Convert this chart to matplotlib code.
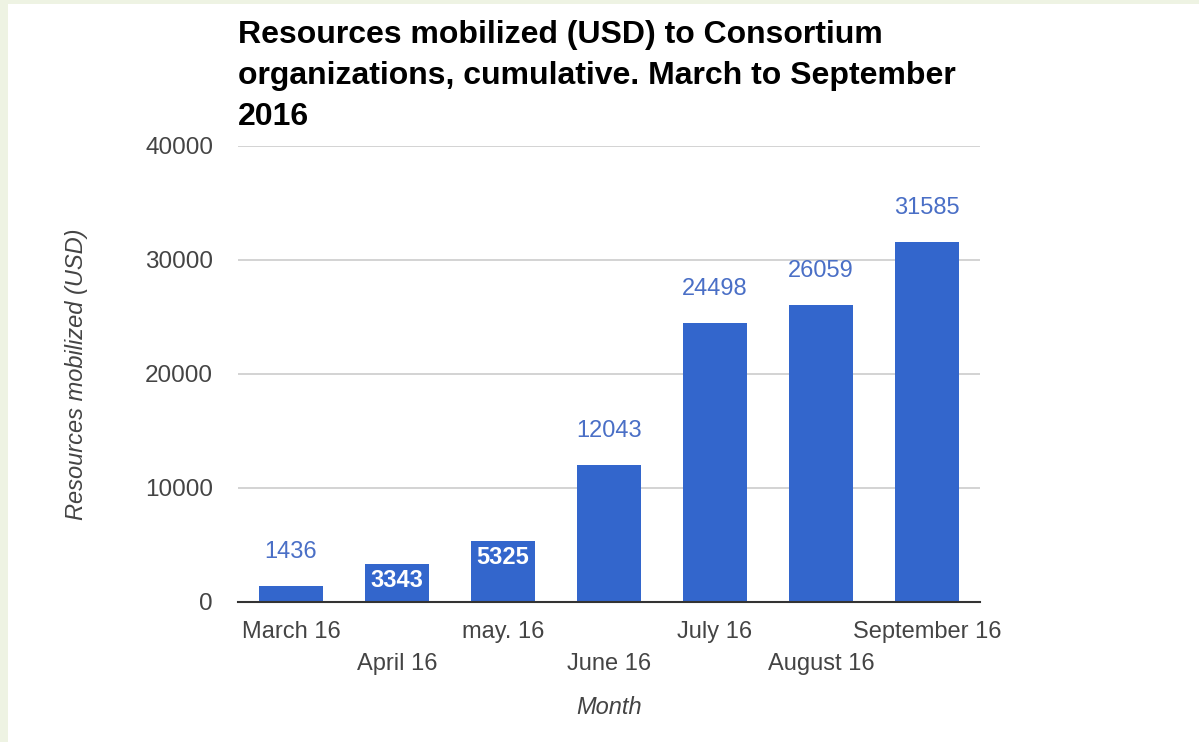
import matplotlib
matplotlib.use("Agg")
import matplotlib.pyplot as plt
from matplotlib.patches import Rectangle

months = ["March 16", "April 16", "may. 16", "June 16", "July 16", "August 16", "September 16"]
amounts = [1436, 3343, 5325, 12043, 24498, 26059, 31585]
inside_label = [False, True, True, False, False, False, False]

plt.rcParams['font.family'] = ['Liberation Sans', 'DejaVu Sans']

bar_color = '#3366cc'
W, H = 1199, 742
fig = plt.figure(figsize=(W / 100, H / 100), dpi=100)
fig.patch.set_facecolor('#eef3e3')
fig.patches.append(Rectangle((8 / W, 0), 1 - 8 / W, 1 - 4 / H, transform=fig.transFigure,
                             facecolor='white', edgecolor='none', zorder=-1))

ax = fig.add_axes([238 / W, 1 - 602 / H, (980 - 238) / W, (602 - 146) / H])
ax.set_facecolor('none')

x = list(range(len(months)))
ax.bar(x, amounts, width=0.6, color=bar_color, zorder=3)

for i, v in enumerate(amounts):
    if inside_label[i]:
        ax.annotate(str(v), (i, v), xytext=(0, -12), textcoords='offset points',
                    ha='center', va='center', color='white', fontsize=17,
                    fontweight='bold', zorder=4)
    else:
        ax.annotate(str(v), (i, v), xytext=(0, 24.5), textcoords='offset points',
                    ha='center', va='center', color='#4a6fc6', fontsize=17, zorder=4)

ax.set_xlim(-0.5, len(months) - 0.5)
ax.set_ylim(0, 40000)
ax.set_yticks([0, 10000, 20000, 30000, 40000])
ax.yaxis.grid(True, color='#cccccc', linewidth=1.2, zorder=0)
ax.set_axisbelow(True)

for s in ['top', 'right', 'left']:
    ax.spines[s].set_visible(False)
ax.spines['bottom'].set_color('#333333')
ax.spines['bottom'].set_linewidth(1.5)
ax.spines['bottom'].set_zorder(5)

ax.set_xticks(x)
ax.set_xticklabels(months)
ax.tick_params(axis='both', length=0, labelsize=17, labelcolor='#444444')
ax.tick_params(axis='y', pad=18, labelsize=17.5)
for i, t in enumerate(ax.xaxis.get_major_ticks()):
    t.set_pad(13.5 if i % 2 == 0 else 37)

ax.set_ylabel("Resources mobilized (USD)", fontsize=17, style='italic', color='#444444', va='center')
ax.yaxis.set_label_coords((77 - 238) / 742, 0.5)
ax.set_xlabel("Month", fontsize=17, style='italic', color='#444444', va='center')
ax.xaxis.set_label_coords(0.5, -(708 - 602) / 456)

fig.text(238 / W, 1 - 20 / H,
         "Resources mobilized (USD) to Consortium\norganizations, cumulative. March to September\n2016",
         ha='left', va='top', fontsize=23, fontweight='bold', color='black', linespacing=1.48)

fig.savefig("out.png", dpi=100)
